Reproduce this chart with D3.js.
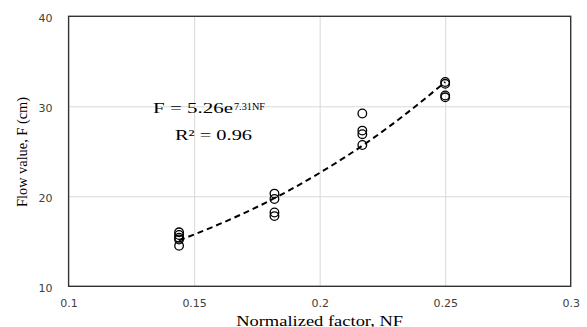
<!DOCTYPE html>
<html>
<head>
<meta charset="utf-8">
<script src="https://cdn.jsdelivr.net/npm/d3@7"></script>
<style>
  body { margin: 0; background: #fff; }
  svg { display: block; }
  .tick text { font-family: "DejaVu Sans", sans-serif; font-size: 11px; fill: #404040; }
  .serif { font-family: "Liberation Serif", "Times New Roman", serif; fill: #000; }
</style>
</head>
<body>
<svg id="chart" width="587" height="327"></svg>
<script>
var nfGroups = [0.144, 0.182, 0.217, 0.25];
var flowValues = [
    [16.0, 15.7, 15.4, 15.2, 14.5],
    [20.3, 19.7, 18.2, 17.8],
    [29.2, 27.3, 26.9, 25.7],
    [32.7, 32.5, 31.2, 31.0]
];
// dashed trend line
var trendNF = [0.144, 0.16, 0.18, 0.2, 0.22, 0.235, 0.25];
var trendF  = [15.1, 16.9, 19.5, 22.6, 26.2, 29.3, 32.7];
var xTicks = [0.1, 0.15, 0.2, 0.25, 0.3];
var yTicks = [10, 20, 30, 40];

var svg = d3.select("#chart");
var padding = {top: 16.3, right: 16.3, bottom: 40.7, left: 68.6};
var chartArea = {
    "width": 587 - padding.left - padding.right,
    "height": 327 - padding.top - padding.bottom
};

var xScale = d3.scaleLinear().domain([0.1, 0.3]).range([0, chartArea.width]);
var yScale = d3.scaleLinear().domain([10, 40]).range([chartArea.height, 0]);

var g = svg.append('g')
    .attr('transform', 'translate(' + padding.left + ',' + padding.top + ')');

// grid lines
g.append('g')
    .attr('transform', 'translate(0,' + chartArea.height + ')')
    .call(d3.axisBottom(xScale).tickValues(xTicks.slice(1, -1)).tickSize(-chartArea.height).tickFormat(''))
    .call(function(s){ s.select('.domain').remove(); })
    .selectAll('line').attr('stroke', '#d9d9d9');
g.append('g')
    .call(d3.axisLeft(yScale).tickValues(yTicks.slice(1, -1)).tickSize(-chartArea.width).tickFormat(''))
    .call(function(s){ s.select('.domain').remove(); })
    .selectAll('line').attr('stroke', '#d9d9d9');

// tick labels
g.append('g')
    .attr('transform', 'translate(0,' + chartArea.height + ')')
    .call(d3.axisBottom(xScale).tickValues(xTicks).tickSize(0).tickPadding(13).tickFormat(function(d){ return String(d); }))
    .call(function(s){ s.select('.domain').remove(); });
g.append('g')
    .call(d3.axisLeft(yScale).tickValues(yTicks).tickSize(0).tickPadding(16))
    .call(function(s){ s.select('.domain').remove(); })
    .selectAll('text').attr('dy', '0.45em');

// plot border
g.append('rect')
    .attr('width', chartArea.width)
    .attr('height', chartArea.height)
    .attr('fill', 'none')
    .attr('stroke', '#333')
    .attr('stroke-width', 1.4);

// trend line
var trendData = trendNF.map(function(d, i){ return {x: d, y: trendF[i]}; });
var line = d3.line()
    .x(function(d){ return xScale(d.x); })
    .y(function(d){ return yScale(d.y); })
    .curve(d3.curveMonotoneX);
g.append('path')
    .datum(trendData)
    .attr('d', line)
    .attr('fill', 'none')
    .attr('stroke', '#000')
    .attr('stroke-width', 2)
    .attr('stroke-dasharray', '6,4');

// points
var points = [];
nfGroups.forEach(function(nf, i){
    flowValues[i].forEach(function(v){ points.push({x: nf, y: v}); });
});
g.selectAll('circle').data(points).enter()
    .append('circle')
    .attr('cx', function(d){ return xScale(d.x); })
    .attr('cy', function(d){ return yScale(d.y); })
    .attr('r', 4.3)
    .attr('fill', 'none')
    .attr('stroke', '#000')
    .attr('stroke-width', 1.3);

// equation
svg.append('text').attr('class', 'serif')
    .attr('x', 153).attr('y', 113)
    .style('font-size', '15px')
    .attr('textLength', 80).attr('lengthAdjust', 'spacingAndGlyphs')
    .text('F = 5.26e');
svg.append('text').attr('class', 'serif')
    .attr('x', 234).attr('y', 109.5)
    .style('font-size', '11px')
    .attr('textLength', 31).attr('lengthAdjust', 'spacingAndGlyphs')
    .text('7.31NF');
svg.append('text').attr('class', 'serif')
    .attr('x', 175).attr('y', 139.5)
    .style('font-size', '15px')
    .attr('textLength', 77).attr('lengthAdjust', 'spacingAndGlyphs')
    .text('R² = 0.96');

// axis titles
svg.append('text').attr('class', 'serif')
    .attr('x', padding.left + chartArea.width / 2).attr('y', 325.5)
    .attr('text-anchor', 'middle')
    .style('font-size', '15px')
    .attr('textLength', 167).attr('lengthAdjust', 'spacingAndGlyphs')
    .text('Normalized factor, NF');
svg.append('text').attr('class', 'serif')
    .attr('transform', 'translate(26.5,152) rotate(-90)')
    .attr('text-anchor', 'middle')
    .style('font-size', '15px')
    .attr('textLength', 110).attr('lengthAdjust', 'spacingAndGlyphs')
    .text('Flow value, F (cm)');
</script>
</body>
</html>
